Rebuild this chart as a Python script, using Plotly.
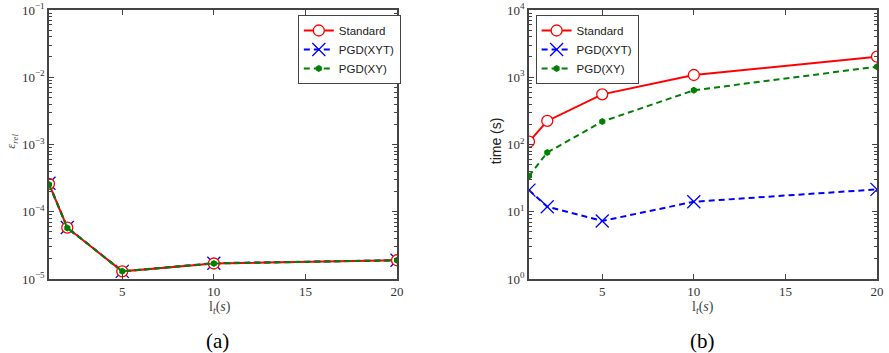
import plotly.graph_objects as go

lt = [1, 2, 5, 10, 20]

err_standard = [2.6e-4, 5.8e-5, 1.3e-5, 1.7e-5, 1.9e-5]
err_pgd_xyt = [2.65e-4, 5.85e-5, 1.3e-5, 1.72e-5, 1.9e-5]
err_pgd_xy = [2.55e-4, 5.75e-5, 1.3e-5, 1.7e-5, 1.9e-5]

time_standard = [110, 224, 557, 1080, 2020]
time_pgd_xyt = [21, 11.9, 7.3, 14.1, 21.5]
time_pgd_xy = [34, 76, 219, 640, 1435]

err_ticks = [1e-5, 1e-4, 1e-3, 1e-2, 1e-1]
err_ticktext = ["10<sup>−5</sup>", "10<sup>−4</sup>", "10<sup>−3</sup>", "10<sup>−2</sup>", "10<sup>−1</sup>"]
time_ticks = [1, 10, 100, 1000, 10000]
time_ticktext = ["10<sup>0</sup>", "10<sup>1</sup>", "10<sup>2</sup>", "10<sup>3</sup>", "10<sup>4</sup>"]
x_ticks = [5, 10, 15, 20]

err_minor = [m * d for d in err_ticks[:-1] for m in range(2, 10)]
time_minor = [m * d for d in time_ticks[:-1] for m in range(2, 10)]

RED = "#ff0000"
BLUE = "#0000ff"
GREEN = "#007f00"
SERIF = "Liberation Serif"
SANS = "Liberation Sans"
DASH = "6px,4px"

fig = go.Figure()


def add_series(xa, ya, leg, std, xyt, xy):
    # blue first (hidden below), then red, then green dashed on top
    fig.add_trace(go.Scatter(x=lt, y=xyt, xaxis=xa, yaxis=ya, name="PGD(XYT)", legend=leg,
                             legendrank=2, mode="lines+markers",
                             line=dict(color=BLUE, width=2, dash=DASH),
                             marker=dict(symbol="x-thin", size=13, line=dict(color=BLUE, width=1.3))))
    fig.add_trace(go.Scatter(x=lt, y=std, xaxis=xa, yaxis=ya, name="Standard", legend=leg,
                             legendrank=1, mode="lines+markers",
                             line=dict(color=RED, width=2),
                             marker=dict(symbol="circle", size=11, color="white",
                                         line=dict(color=RED, width=1.3))))
    fig.add_trace(go.Scatter(x=lt, y=xy, xaxis=xa, yaxis=ya, name="PGD(XY)", legend=leg,
                             legendrank=3, mode="lines+markers",
                             line=dict(color=GREEN, width=2, dash=DASH),
                             marker=dict(symbol="hexagon", size=7, color=GREEN)))


add_series("x", "y", "legend", err_standard, err_pgd_xyt, err_pgd_xy)
add_series("x2", "y2", "legend2", time_standard, time_pgd_xyt, time_pgd_xy)

axis_common = dict(showgrid=False, zeroline=False, showline=True, linecolor="#444444", linewidth=1.5,
                   mirror="allticks", ticks="inside", ticklen=5, tickcolor="#444444", automargin=False,
                   tickfont=dict(family=SERIF, size=13, color="#333333"))
legend_common = dict(y=0.9575, xanchor="left", yanchor="top", bordercolor="#444444",
                     borderwidth=1, bgcolor="white", font=dict(family=SANS, size=11.5, color="#222222"),
                     tracegroupgap=0, itemwidth=30)

fig.update_layout(
    width=889, height=353, margin=dict(l=0, r=0, t=0, b=0, autoexpand=False),
    plot_bgcolor="white", paper_bgcolor="white",
    xaxis=dict(domain=[0.0551, 0.4466], range=[1, 20], tickvals=x_ticks, anchor="y", **axis_common),
    yaxis=dict(domain=[0.2096, 0.9717], type="log", range=[-5, -1], tickvals=err_ticks,
               ticktext=err_ticktext, anchor="x",
               minor=dict(tickmode="array", tickvals=err_minor, ticks="inside", ticklen=3,
                          tickcolor="#444444", tickwidth=1.2, showgrid=False),
               **axis_common),
    xaxis2=dict(domain=[0.595, 0.9865], range=[1, 20], tickvals=x_ticks, anchor="y2", **axis_common),
    yaxis2=dict(domain=[0.2096, 0.9717], type="log", range=[0, 4], tickvals=time_ticks,
                ticktext=time_ticktext, anchor="x2",
                minor=dict(tickmode="array", tickvals=time_minor, ticks="inside", ticklen=3,
                           tickcolor="#444444", tickwidth=1.2, showgrid=False),
                **axis_common),
    legend=dict(x=0.335, **legend_common),
    legend2=dict(x=0.6025, **legend_common),
)

annotations = [
    dict(text="<i>ε<sub>rel</sub></i>", x=0.013, y=0.6, textangle=-90,
         font=dict(family=SERIF, size=13, color="#555555")),
    dict(text="time (s)", x=0.558, y=0.6, textangle=-90,
         font=dict(family=SANS, size=14, color="#222222")),
    dict(text="l<sub><i>t</i></sub>(<i>s</i>)", x=0.2475, y=0.128,
         font=dict(family=SERIF, size=14, color="#444444")),
    dict(text="l<sub><i>t</i></sub>(<i>s</i>)", x=0.7905, y=0.128,
         font=dict(family=SERIF, size=14, color="#444444")),
    dict(text="(a)", x=0.245, y=0.035, font=dict(family=SERIF, size=21, color="black")),
    dict(text="(b)", x=0.79, y=0.035, font=dict(family=SERIF, size=21, color="black")),
]
for a in annotations:
    a.update(xref="paper", yref="paper", showarrow=False, xanchor="center", yanchor="middle")
fig.update_layout(annotations=annotations)

fig.write_html("out.html")
